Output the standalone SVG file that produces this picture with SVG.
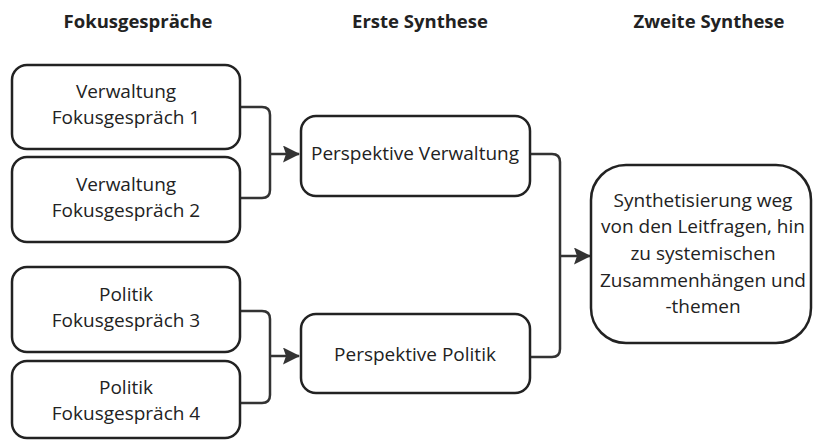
<svg xmlns="http://www.w3.org/2000/svg" width="813" height="440" viewBox="0 0 813 440">
<defs>
<marker id="arr" markerWidth="17" markerHeight="17" refX="16" refY="8.5" orient="auto" markerUnits="userSpaceOnUse">
<path d="M0,0 L17,8.5 L0,17 L3,8.5 Z" fill="#333"/>
</marker>
<style>
.box{fill:#fff;stroke:#222;stroke-width:2.5}
.t{font-family:"Open Sans","Noto Sans",sans-serif;font-size:19px;fill:#222;text-anchor:middle}
.h{font-family:"Open Sans","Noto Sans",sans-serif;font-size:18.5px;font-weight:bold;fill:#222;text-anchor:middle}
.c{fill:none;stroke:#333;stroke-width:2.5}
</style>
</defs>
<rect width="813" height="440" fill="#fff"/>
<g id="headers">
<text class="h" x="138" y="28">Fokusgespräche</text>
<text class="h" x="420" y="28">Erste Synthese</text>
<text class="h" x="709" y="28">Zweite Synthese</text>
</g>
<g id="connectors">
<path class="c" d="M241,107 H262 Q270,107 270,115 V190 Q270,198 262,198 H241"/>
<path class="c" d="M270,154 H299" marker-end="url(#arr)"/>
<path class="c" d="M241,311 H262 Q270,311 270,319 V395 Q270,403 262,403 H241"/>
<path class="c" d="M270,356 H299" marker-end="url(#arr)"/>
<path class="c" d="M531,154 H552 Q560,154 560,162 V349 Q560,357 552,357 H531"/>
<path class="c" d="M560,256 H590" marker-end="url(#arr)"/>
</g>
<g id="n1">
<rect class="box" x="12" y="65" width="228" height="84" rx="15"/>
<text class="t" x="126" y="98">Verwaltung</text>
<text class="t" x="126" y="124">Fokusgespräch 1</text>
</g>
<g id="n2">
<rect class="box" x="12" y="157" width="228" height="85" rx="15"/>
<text class="t" x="126" y="191">Verwaltung</text>
<text class="t" x="126" y="217">Fokusgespräch 2</text>
</g>
<g id="n3">
<rect class="box" x="12" y="267" width="228" height="85" rx="15"/>
<text class="t" x="126" y="301">Politik</text>
<text class="t" x="126" y="327">Fokusgespräch 3</text>
</g>
<g id="n4">
<rect class="box" x="12" y="361" width="228" height="77" rx="15"/>
<text class="t" x="126" y="394">Politik</text>
<text class="t" x="126" y="420">Fokusgespräch 4</text>
</g>
<g id="pv">
<rect class="box" x="301" y="116" width="229" height="80" rx="15"/>
<text class="t" x="415" y="160">Perspektive Verwaltung</text>
</g>
<g id="pp">
<rect class="box" x="301" y="314" width="229" height="79" rx="15"/>
<text class="t" x="415" y="361">Perspektive Politik</text>
</g>
<g id="syn">
<rect class="box" x="591" y="165" width="220" height="178" rx="35"/>
<text class="t" x="703" y="207">Synthetisierung weg</text>
<text class="t" x="703" y="233">von den Leitfragen, hin</text>
<text class="t" x="703" y="260">zu systemischen</text>
<text class="t" x="703" y="287">Zusammenhängen und</text>
<text class="t" x="703" y="313">-themen</text>
</g>
</svg>
